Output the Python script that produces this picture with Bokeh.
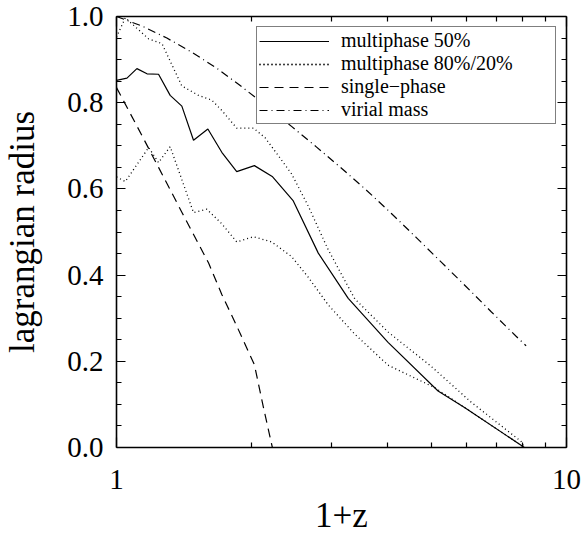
from bokeh.plotting import figure
from bokeh.models import (FixedTicker, LogAxis, LinearAxis, Range1d,
                          PrintfTickFormatter)
from bokeh.embed import file_html
from bokeh.resources import INLINE

# ---------------- data ----------------
x_label = "1+z"
y_label = "lagrangian radius"
x_major = [1, 10]
x_minor = [2, 3, 4, 5, 6, 7, 8, 9]
y_major = [0.0, 0.2, 0.4, 0.6, 0.8, 1.0]
y_minor = [0.05, 0.1, 0.15, 0.25, 0.3, 0.35, 0.45, 0.5, 0.55,
           0.65, 0.7, 0.75, 0.85, 0.9, 0.95]

mp50_x = [1.0, 1.055, 1.110, 1.169, 1.240, 1.316, 1.397, 1.483, 1.596, 1.714,
          1.850, 2.025, 2.223, 2.471, 2.808, 3.273, 4.013, 5.183, 5.934, 8.062]
mp50_y = [0.852, 0.857, 0.879, 0.867, 0.866, 0.817, 0.792, 0.713, 0.739, 0.685,
          0.640, 0.654, 0.628, 0.572, 0.451, 0.346, 0.244, 0.131, 0.093, 0.0]

mp80_x = [1.0, 1.046, 1.179, 1.262, 1.397, 1.521, 1.628, 1.714, 1.850, 2.015,
          2.138, 2.289, 2.449, 2.668, 2.954, 3.384, 4.013, 5.007, 6.142, 7.928, 8.062]
mp80_y = [0.952, 0.997, 0.948, 0.937, 0.839, 0.817, 0.806, 0.782, 0.741, 0.741,
          0.719, 0.677, 0.635, 0.560, 0.459, 0.345, 0.268, 0.188, 0.105, 0.014, 0.0]

mp20_x = [1.0, 1.046, 1.179, 1.240, 1.316, 1.483, 1.587, 1.714, 1.850, 2.015,
          2.212, 2.449, 2.668, 2.954, 3.384, 4.013, 5.093, 5.934, 8.062]
mp20_y = [0.628, 0.617, 0.696, 0.661, 0.698, 0.545, 0.553, 0.519, 0.477, 0.489,
          0.477, 0.443, 0.395, 0.331, 0.263, 0.191, 0.139, 0.093, 0.0]

sp_x = [1.0, 1.110, 1.240, 1.397, 1.602, 1.714, 1.850, 2.025, 2.124, 2.220, 8.062]
sp_y = [0.835, 0.746, 0.650, 0.546, 0.428, 0.355, 0.282, 0.192, 0.090, 0.0, 0.0]

vir_x = [1.000, 1.139, 1.294, 1.470, 1.671, 1.898, 2.157, 2.449, 2.784, 3.162,
         3.593, 4.082, 4.638, 5.269, 5.987, 6.802, 7.727, 8.133]
vir_y = [1.000, 0.978, 0.950, 0.917, 0.880, 0.837, 0.792, 0.745, 0.697, 0.648,
         0.597, 0.543, 0.487, 0.430, 0.373, 0.315, 0.258, 0.236]

labels = ["multiphase 50%", "multiphase 80%/20%", "single\u2212phase", "virial mass"]

# ---------------- figure ----------------
FONT = "Liberation Serif"

p = figure(width=582, height=537, x_axis_type="log",
           x_range=Range1d(1, 10), y_range=Range1d(0, 1.0),
           output_backend="svg", toolbar_location=None,
           min_border_left=115, min_border_right=16,
           min_border_top=16, min_border_bottom=90)
p.grid.visible = False
p.outline_line_color = None
p.background_fill_color = "white"
p.border_fill_color = "white"

p.line(mp50_x, mp50_y, line_color="black", line_width=1.2, legend_label=labels[0])
p.line(mp80_x, mp80_y, line_color="black", line_width=1.3, line_dash="1 3",
       legend_label=labels[1])
p.line(mp20_x, mp20_y, line_color="black", line_width=1.3, line_dash="1 3",
       legend_label=labels[1])
p.line(sp_x, sp_y, line_color="black", line_width=1.2, line_dash="9 6",
       legend_label=labels[2])
p.line(vir_x, vir_y, line_color="black", line_width=1.2, line_dash="8 4 1 4",
       legend_label=labels[3])

xt = FixedTicker(ticks=x_major, minor_ticks=x_minor)
yt = FixedTicker(ticks=y_major, minor_ticks=y_minor)


def style(ax, ticks_len, minor_len, labels_on=True):
    ax.axis_line_color = "black"
    ax.axis_line_width = 1.6
    ax.major_tick_line_color = "black"
    ax.minor_tick_line_color = "black"
    ax.major_tick_line_width = 1.2
    ax.minor_tick_line_width = 1.2
    ax.major_tick_in = ticks_len
    ax.major_tick_out = 0
    ax.minor_tick_in = minor_len
    ax.minor_tick_out = 0
    ax.major_label_text_font = FONT
    ax.major_label_text_font_size = "29px"
    ax.major_label_text_color = "black"
    ax.axis_label_text_font = FONT
    ax.axis_label_text_font_size = "35px"
    ax.axis_label_text_font_style = "normal"
    ax.axis_label_text_color = "black"
    if not labels_on:
        ax.major_label_text_font_size = "0px"
        ax.major_label_standoff = 0


xa = p.xaxis[0]
xa.ticker = xt
xa.formatter = PrintfTickFormatter(format="%d")
xa.axis_label = x_label
style(xa, 10, 5)
xa.major_label_standoff = 22
xa.axis_label_standoff = 4

ya = p.yaxis[0]
ya.ticker = yt
ya.formatter = PrintfTickFormatter(format="%.1f")
ya.axis_label = y_label
style(ya, 9, 5)
ya.major_label_standoff = 13
ya.axis_label_standoff = 22

top = LogAxis(ticker=FixedTicker(ticks=x_major, minor_ticks=x_minor))
style(top, 10, 5, labels_on=False)
top.major_label_overrides = {1: "", 10: ""}
p.add_layout(top, "above")

right = LinearAxis(ticker=FixedTicker(ticks=y_major, minor_ticks=y_minor))
style(right, 9, 5, labels_on=False)
right.major_label_overrides = {v: "" for v in y_major}
p.add_layout(right, "right")

lg = p.legend[0]
lg.location = "top_right"
lg.margin = 10
lg.border_line_color = "black"
lg.border_line_width = 1.5
lg.background_fill_color = "white"
lg.background_fill_alpha = 1.0
lg.label_text_font = FONT
lg.label_text_font_size = "20px"
lg.label_text_color = "black"
lg.glyph_width = 70
lg.glyph_height = 14
lg.label_height = 14
lg.label_width = 212
lg.label_standoff = 12
lg.padding = 2
lg.spacing = 0

open("out.html", "w").write(file_html(p, INLINE))
